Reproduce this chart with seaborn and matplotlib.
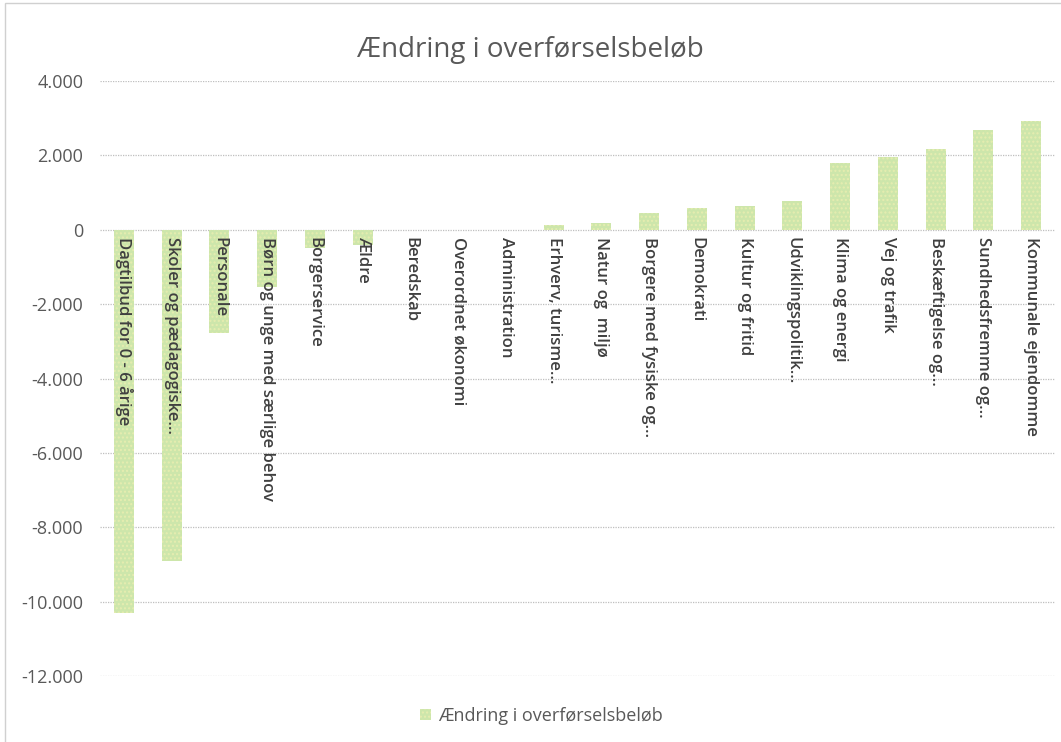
import matplotlib
matplotlib.use("Agg")
import matplotlib.pyplot as plt
import matplotlib.patches as mpatches
import matplotlib.transforms as mtrans
import pandas as pd
import seaborn as sns

# data
categories = [
    "Dagtilbud for 0 - 6 årige",
    "Skoler og pædagogiske…",
    "Personale",
    "Børn og unge med særlige behov",
    "Borgerservice",
    "Ældre",
    "Beredskab",
    "Overordnet økonomi",
    "Administration",
    "Erhverv, turisme…",
    "Natur og  miljø",
    "Borgere med fysiske og…",
    "Demokrati",
    "Kultur og fritid",
    "Udviklingspolitik…",
    "Klima og energi",
    "Vej og trafik",
    "Beskæftigelse og…",
    "Sundhedsfremme og…",
    "Kommunale ejendomme",
]
values = [-10300, -8900, -2770, -1530, -480, -420, 0, 0, 0,
          130, 190, 460, 590, 650, 780, 1800, 1960, 2180, 2690, 2930]
yticks = [4000, 2000, 0, -2000, -4000, -6000, -8000, -10000, -12000]
series_name = "Ændring i overførselsbeløb"

BAR = "#cde6ab"
DOTS = "#e6edb0"


def fmt(v):
    return "{:,}".format(v).replace(",", ".")


def main():
    sns.set_theme(style="white")
    plt.rcParams['font.family'] = ['Open Sans', 'DejaVu Sans']

    fig = plt.figure(figsize=(10.61, 7.42), dpi=100)
    ax = fig.add_axes([100 / 1061, 66 / 742, 955 / 1061, 595 / 742])

    df = pd.DataFrame({"cat": categories, "val": values})
    sns.barplot(data=df, x="cat", y="val", order=categories, color=BAR,
                saturation=1, width=0.42, ax=ax)
    for p in ax.patches:
        p.set_hatch("....")
        p.set_edgecolor(DOTS)
        p.set_linewidth(0)

    ax.set_ylim(-12000, 4000)
    ax.set_yticks(yticks)
    ax.set_yticklabels([fmt(v) for v in yticks], color="#595959", fontsize=13)
    ax.yaxis.grid(True, color="#bfbfbf", linestyle=(0, (1, 1)), linewidth=0.9)
    ax.set_axisbelow(True)
    ax.tick_params(axis="y", length=0, pad=12)

    for s in ax.spines.values():
        s.set_visible(False)

    ax.set_xticks(range(len(categories)))
    ax.set_xticklabels([])
    ax.tick_params(axis="x", length=0)
    ax.set_xlabel("")
    ax.set_ylabel("")
    ax.set_xlim(-0.5, len(categories) - 0.5)

    # category labels sit next to the zero line, drawn over the bars
    off = mtrans.offset_copy(ax.transData, fig=fig, x=0, y=-5, units="points")
    for i, name in enumerate(categories):
        ax.text(i, 0, name, transform=off, rotation=270, ha="center", va="top",
                color="#404040", fontsize=12, fontweight="semibold", zorder=5)

    fig.text(0.5, 0.933, series_name, ha="center", va="center",
             fontsize=20, color="#595959")

    handle = mpatches.Patch(facecolor=BAR, hatch="....",
                            edgecolor=DOTS, linewidth=0)
    fig.legend([handle], [series_name], loc="center", bbox_to_anchor=(0.51, 0.035),
               frameon=False, fontsize=13, labelcolor="#595959",
               handlelength=0.6, handleheight=0.6, handletextpad=0.4)

    frame = mpatches.Rectangle((5 / 1061, -0.01), 1.2, 1.01 - 10 / 742 + 0.01,
                               transform=fig.transFigure, fill=False,
                               edgecolor="#d0d0d0", linewidth=1)
    fig.patches.append(frame)

    fig.savefig("out.png", dpi=100)


if __name__ == "__main__":
    main()
